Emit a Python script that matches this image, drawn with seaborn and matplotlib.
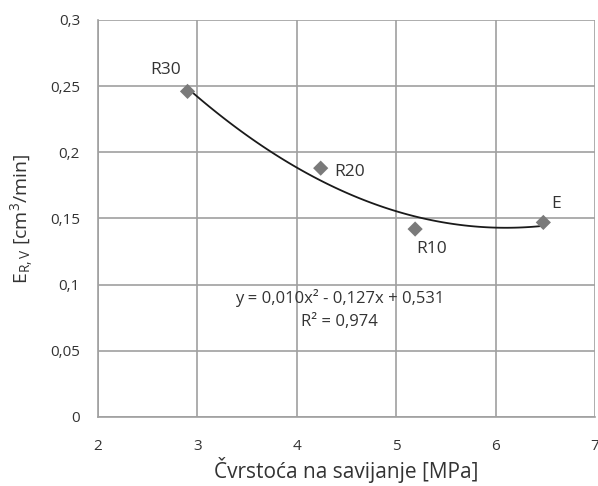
import numpy as np
import pandas as pd
import matplotlib
matplotlib.use("Agg")
import matplotlib.pyplot as plt
import seaborn as sns

# Values
labels = ["R30", "R20", "R10", "E"]
strength = [2.9, 4.24, 5.19, 6.48]   # MPa
wear = [0.246, 0.188, 0.142, 0.147]  # cm3/min

y_ticks = [0, 0.05, 0.1, 0.15, 0.2, 0.25, 0.3]
x_ticks = [2, 3, 4, 5, 6, 7]

df = pd.DataFrame({"strength": strength, "wear": wear, "label": labels})

# Second order trendline through the points
coef = np.polyfit(df["strength"], df["wear"], 2)
xs = np.linspace(min(strength), max(strength), 100)
trend = pd.DataFrame({"x": xs, "y": np.polyval(coef, xs)})

sns.set_theme(style="white")
plt.rcParams["font.family"] = ["Open Sans", "DejaVu Sans"]
plt.rcParams["mathtext.fontset"] = "custom"
plt.rcParams["mathtext.rm"] = "Open Sans"
plt.rcParams["mathtext.it"] = "Open Sans"

grid_c = "#a0a0a0"
text_c = "#333333"

fig = plt.figure(figsize=(5.98, 4.86), dpi=100)
ax = fig.add_axes([0.164, 0.142, 0.831, 0.817])

sns.lineplot(data=trend, x="x", y="y", color="#1a1a1a", linewidth=1.3, ax=ax, zorder=3)
sns.scatterplot(data=df, x="strength", y="wear", marker="D", s=60, color="#7a7a7a",
                edgecolor="none", ax=ax, zorder=4)

offsets = {"R30": (-0.22, 0.016, "center"), "R20": (0.14, -0.003, "left"),
           "R10": (0.17, -0.015, "center"), "E": (0.13, 0.014, "center")}
for lab, xv, yv in zip(labels, strength, wear):
    dx, dy, ha = offsets[lab]
    ax.text(xv + dx, yv + dy, lab, fontsize=12.5, color=text_c, ha=ha, va="center")

ax.text(4.43, 0.090, "y = 0,010x² - 0,127x + 0,531", fontsize=12, color=text_c,
        ha="center", va="center")
ax.text(4.43, 0.072, "R² = 0,974", fontsize=12, color=text_c, ha="center", va="center")

ax.set_xlim(2, 7)
ax.set_ylim(0, 0.3)
ax.set_xticks(x_ticks)
ax.set_yticks(y_ticks)
ax.set_xticklabels([str(t) for t in x_ticks])
ax.set_yticklabels([("%g" % t).replace(".", ",") for t in y_ticks])
ax.grid(True, color=grid_c, linewidth=1.2)
ax.set_axisbelow(True)
for side in ["top", "right"]:
    ax.spines[side].set_visible(False)
for side in ["left", "bottom"]:
    ax.spines[side].set_color(grid_c)
    ax.spines[side].set_linewidth(1.2)
ax.tick_params(axis="both", direction="out", length=5, width=1.2, color=grid_c,
               labelsize=11, labelcolor=text_c, pad=8)
ax.tick_params(axis="x", pad=11)

ax.set_xlabel("Čvrstoća na savijanje [MPa]", fontsize=15, color=text_c)
ax.xaxis.set_label_coords(0.5, -0.1)
ax.set_ylabel("E$_{R,V}$ [cm$^3$/min]", fontsize=14, color=text_c)
ax.yaxis.set_label_coords(-0.125, 0.5)

fig.savefig("out.png", dpi=100)
